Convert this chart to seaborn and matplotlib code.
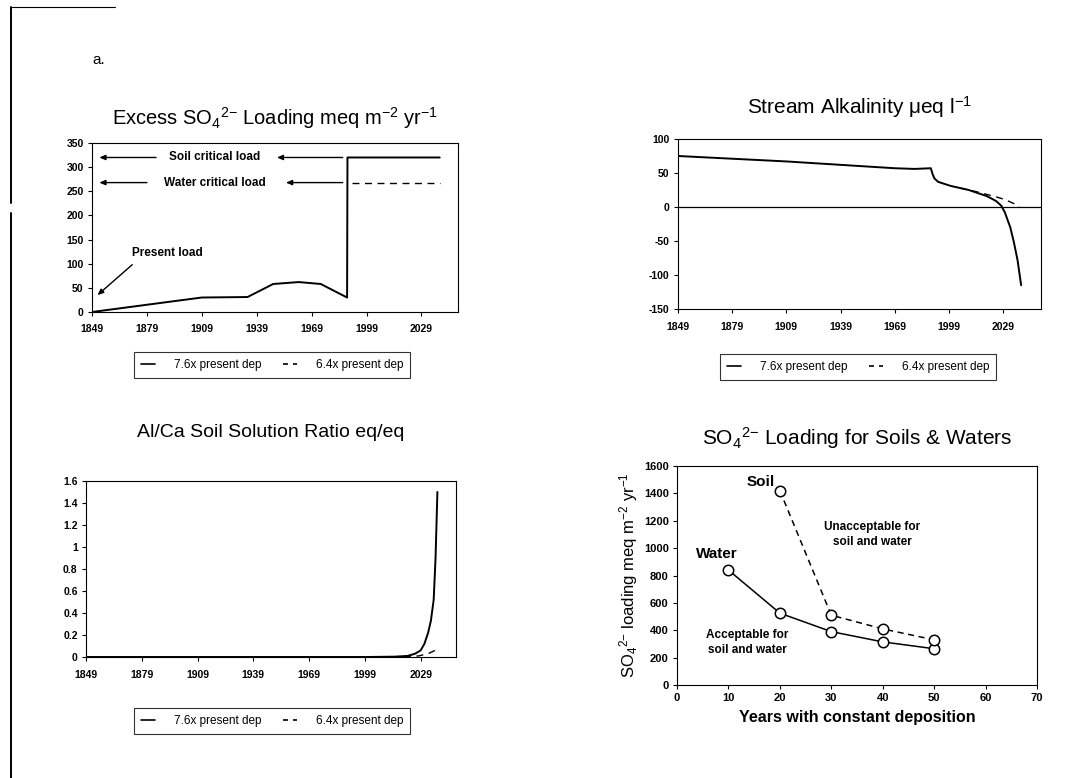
import numpy as np
import pandas as pd
import matplotlib
matplotlib.use("Agg")
import matplotlib.pyplot as plt
import seaborn as sns
from matplotlib.lines import Line2D

# ---------------- data ----------------
year_ticks = [1849, 1879, 1909, 1939, 1969, 1999, 2029]

# Panel a1: excess SO4 loading
load_years_76 = [1849, 1879, 1909, 1934, 1948, 1962, 1974, 1988.4, 1988.6, 2039]
load_vals_76 = [0, 15, 30, 31, 58, 62, 58, 30, 320, 320]
load_years_64 = [1991, 2039]
load_vals_64 = [268, 268]

# Panel a2: stream alkalinity
alk_years_76 = [1849, 1909, 1969, 1980, 1989, 1990, 1991, 1993, 2000, 2010, 2020,
                2025, 2028, 2030, 2033, 2035, 2037, 2039]
alk_vals_76 = [75, 67, 57, 56, 57, 48, 42, 37, 31, 25, 16, 9, 2, -8, -30, -52, -78, -115]
alk_years_64 = [2005, 2015, 2025, 2030, 2035, 2038]
alk_vals_64 = [28, 22, 15, 11, 5, 0]

# Panel a3: Al/Ca ratio
alca_years_76 = [1849, 2000, 2015, 2022, 2026, 2029, 2031, 2033, 2034.5, 2036, 2037, 2038]
alca_vals_76 = [0, 0, 0.003, 0.01, 0.03, 0.06, 0.12, 0.22, 0.33, 0.52, 0.9, 1.5]
alca_years_64 = [2020, 2028, 2033, 2038]
alca_vals_64 = [0, 0.01, 0.03, 0.07]

# Panel a4: SO4 loading for soils & waters
dep_years_water = [10, 20, 30, 40, 50]
load_water = [840, 525, 390, 315, 265]
dep_years_soil = [20, 30, 40, 50]
load_soil = [1420, 510, 410, 330]

legend_labels = ["7.6x present dep", "6.4x present dep"]

# ---------------- style ----------------
sns.set_style("ticks")
plt.rcParams['font.family'] = ['Liberation Sans', 'DejaVu Sans']
plt.rcParams['mathtext.default'] = 'regular'
plt.rcParams['axes.unicode_minus'] = False
plt.rcParams['axes.linewidth'] = 0.8
plt.rcParams['axes.edgecolor'] = 'black'
plt.rcParams['text.color'] = 'black'
plt.rcParams['axes.labelcolor'] = 'black'
plt.rcParams['xtick.color'] = 'black'
plt.rcParams['ytick.color'] = 'black'

fig = plt.figure(figsize=(10.92, 7.78), dpi=100)
W, H = 1092, 778

def add_ax(l, t, r, b):
    return fig.add_axes([l / W, 1 - b / H, (r - l) / W, (b - t) / H])

def style_ax(ax, labelsize=7.5):
    for s in ax.spines.values():
        s.set_visible(True)
        s.set_color('black')
        s.set_linewidth(0.8)
    ax.tick_params(direction='out', length=3, width=0.8, labelsize=labelsize,
                   colors='black', pad=3)
    for lbl in ax.get_xticklabels() + ax.get_yticklabels():
        lbl.set_fontweight('bold')
    ax.grid(False)

def fmt(v):
    return f"{v:g}"

lw = 1.4
SUP = r"$_4$$^{2{-}}$"

# ---------- Panel 1 ----------
ax1 = add_ax(92, 143, 458, 312)
sns.lineplot(x=load_years_76, y=load_vals_76, ax=ax1, color='black', lw=lw,
             sort=False, estimator=None)
sns.lineplot(x=load_years_64, y=load_vals_64, ax=ax1, color='black', lw=1.0,
             linestyle=(0, (5, 4)), sort=False, estimator=None)
ax1.set_xlim(1849, 2049)
ax1.set_ylim(0, 350)
ax1.set_xticks(year_ticks)
ax1.set_yticks(range(0, 351, 50))
ax1.set_title("Excess SO" + SUP + r" Loading meq m$^{-2}$ yr$^{-1}$", fontsize=14.5, pad=13,
              color='black')
style_ax(ax1)
ax1.tick_params(axis='x', pad=6)

akw = dict(arrowstyle='-|>,head_length=0.35,head_width=0.15', color='black', lw=1.0,
           shrinkA=0, shrinkB=0)
for yv, label, tx0, cx, a2 in [(320, "Soil critical load", 1884, 1916, 1950),
                               (268, "Water critical load", 1879, 1916, 1955)]:
    ax1.annotate("", xy=(1853, yv), xytext=(tx0, yv), arrowprops=akw)
    ax1.text(cx, yv, label, ha='center', va='center', fontsize=8.5, fontweight='bold')
    ax1.annotate("", xy=(a2, yv), xytext=(1986, yv), arrowprops=akw)
ax1.text(1890, 123, "Present load", ha='center', va='center', fontsize=8.5, fontweight='bold')
ax1.annotate("", xy=(1852, 35), xytext=(1871, 98), arrowprops=akw)

# ---------- Panel 2 ----------
ax2 = add_ax(678, 139, 1041, 309)
ax2.axhline(0, color='black', lw=0.9)
sns.lineplot(x=alk_years_76, y=alk_vals_76, ax=ax2, color='black', lw=lw,
             sort=False, estimator=None)
sns.lineplot(x=alk_years_64, y=alk_vals_64, ax=ax2, color='black', lw=1.0,
             linestyle=(0, (5, 4)), sort=False, estimator=None)
ax2.set_xlim(1849, 2050)
ax2.set_ylim(-150, 100)
ax2.set_xticks(year_ticks)
ax2.set_yticks(range(-150, 101, 50))
ax2.set_title(r"Stream Alkalinity $\mu$eq l$^{-1}$", fontsize=15, pad=18, color='black')
style_ax(ax2)
ax2.tick_params(axis='x', pad=6)

# ---------- Panel 3 ----------
ax3 = add_ax(86, 481, 456, 657)
sns.lineplot(x=alca_years_76, y=alca_vals_76, ax=ax3, color='black', lw=lw,
             sort=False, estimator=None)
sns.lineplot(x=alca_years_64, y=alca_vals_64, ax=ax3, color='black', lw=1.0,
             linestyle=(0, (5, 4)), sort=False, estimator=None)
ax3.set_xlim(1849, 2048)
ax3.set_ylim(0, 1.6)
ax3.set_xticks(year_ticks)
yt3 = [0, 0.2, 0.4, 0.6, 0.8, 1.0, 1.2, 1.4, 1.6]
ax3.set_yticks(yt3, [fmt(v) for v in yt3])
ax3.set_title("Al/Ca Soil Solution Ratio eq/eq", fontsize=14, pad=32, color='black')
style_ax(ax3)
ax3.tick_params(axis='x', pad=6)

# ---------- Panel 4 ----------
ax4 = add_ax(677, 466, 1037, 685)
mk = dict(marker='o', markersize=7.5, markerfacecolor='white', markeredgecolor='black',
          markeredgewidth=1.1)
sns.lineplot(x=dep_years_water, y=load_water, ax=ax4, color='black', lw=1.1,
             sort=False, estimator=None, **mk)
sns.lineplot(x=dep_years_soil, y=load_soil, ax=ax4, color='black', lw=1.1,
             linestyle=(0, (4, 3)), sort=False, estimator=None, **mk)
ax4.set_xlim(0, 70)
ax4.set_ylim(0, 1600)
ax4.set_xticks(range(0, 71, 10))
ax4.set_yticks(range(0, 1601, 200))
ax4.set_title("SO" + SUP + " Loading for Soils & Waters", fontsize=15, pad=15, color='black')
ax4.set_ylabel("SO" + SUP + r" loading meq m$^{-2}$ yr$^{-1}$", fontsize=12, labelpad=3)
ax4.set_xlabel("Years with constant deposition", fontsize=11.5, fontweight='bold', labelpad=5)
style_ax(ax4, labelsize=8)
ax4.text(19.0, 1480, "Soil", ha='right', va='center', fontsize=11, fontweight='bold')
ax4.text(7.8, 960, "Water", ha='center', va='center', fontsize=11, fontweight='bold')
ax4.text(37.9, 1100, "Unacceptable for\nsoil and water", ha='center', va='center',
         fontsize=8.5, fontweight='bold', linespacing=1.25)
ax4.text(13.6, 310, "Acceptable for\nsoil and water", ha='center', va='center',
         fontsize=8.5, fontweight='bold', linespacing=1.25)

# ---------- legends ----------
handles = [Line2D([], [], color='black', lw=1.2),
           Line2D([], [], color='black', lw=1.2, linestyle=(0, (3, 3)))]
for cx, cy in [(272, 365), (858, 367), (272, 721)]:
    leg = fig.legend(handles, legend_labels, loc='center',
                     bbox_to_anchor=(cx / W, 1 - cy / H), ncol=2, frameon=True,
                     fancybox=False, edgecolor='black', fontsize=8.5, handlelength=1.2,
                     columnspacing=1.8, handletextpad=1.6, borderpad=0.6)
    leg.get_frame().set_linewidth(0.8)
    for t in leg.get_texts():
        t.set_color('black')

# ---------- misc ----------
fig.text(92 / W, 1 - 60 / H, "a.", fontsize=11, ha='left', va='center')
fig.add_artist(Line2D([11 / W, 11 / W], [1 - 7 / H, 1 - 203 / H],
                      transform=fig.transFigure, color='black', lw=1.4))
fig.add_artist(Line2D([11 / W, 11 / W], [1 - 213 / H, 0],
                      transform=fig.transFigure, color='black', lw=1.4))
fig.add_artist(Line2D([11 / W, 115 / W], [1 - 7 / H, 1 - 7 / H],
                      transform=fig.transFigure, color='black', lw=0.8))

fig.savefig("out.png", dpi=100)
